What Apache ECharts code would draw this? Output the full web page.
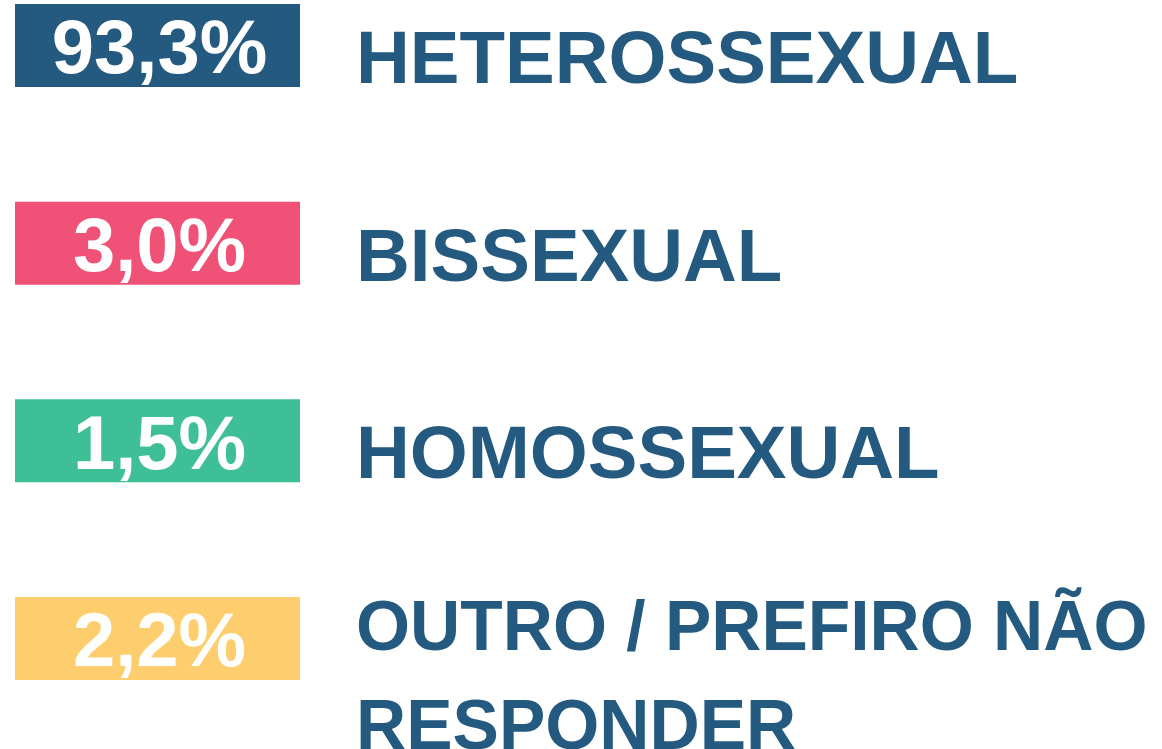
<!DOCTYPE html>
<html>
<head>
<meta charset="utf-8">
<script src="https://cdn.jsdelivr.net/npm/echarts@6/dist/echarts.min.js"></script>
<style>
  html, body { margin: 0; padding: 0; background: #ffffff; }
  #chart { width: 1162px; height: 749px; }
</style>
</head>
<body>
<div id="chart"></div>
<script>
// ---- data ----
const categories = ['HETEROSSEXUAL', 'BISSEXUAL', 'HOMOSSEXUAL', 'OUTRO / PREFIRO NÃO\nRESPONDER'];
const percentages = [93.3, 3.0, 1.5, 2.2];
const boxColors = ['#245A80', '#F05277', '#3EBF97', '#FECE6E'];

const fmt = v => v.toFixed(1).replace('.', ',') + '%';

const chart = echarts.init(document.getElementById('chart'), null, { renderer: 'canvas' });

const BOX_W = 285, BOX_H = 83;
const LABEL_COLOR = '#245A80';
const FONT = '"Liberation Sans", Arial, sans-serif';

chart.setOption({
  backgroundColor: '#ffffff',
  animation: false,
  grid: { left: 15, right: 20, top: 45.5, bottom: 110.5 },
  xAxis: { type: 'value', min: 0, max: 100, show: false },
  yAxis: { type: 'category', data: categories, inverse: true, boundaryGap: false, show: false },
  series: [{
    type: 'custom',
    data: percentages.map((v, i) => [v, i]),
    encode: { x: 0, y: 1 },
    renderItem: function (params, api) {
      const idx = api.value(1);
      const val = api.value(0);
      const p = api.coord([0, idx]);
      const x0 = p[0], cy = p[1];
      const label = categories[idx];
      const multi = label.indexOf('\n') >= 0;
      const labelSize = multi ? 69.5 : 74.5;
      const lineH = 99;
      const firstLineCenter = multi ? cy - 14.5 : cy + 10;
      return {
        type: 'group',
        children: [
          {
            type: 'rect',
            shape: { x: x0, y: cy - BOX_H / 2, width: BOX_W, height: BOX_H },
            style: { fill: boxColors[idx] }
          },
          {
            type: 'text',
            x: x0 + BOX_W / 2 + 2,
            y: cy + 7,
            style: {
              text: fmt(val),
              fill: '#ffffff',
              font: 'bold 76px ' + FONT,
              align: 'center',
              verticalAlign: 'middle'
            }
          },
          {
            type: 'text',
            x: 356,
            y: firstLineCenter - lineH / 2 + 7,
            style: {
              text: label,
              fill: LABEL_COLOR,
              font: 'bold ' + labelSize + 'px ' + FONT,
              lineHeight: lineH,
              align: 'left',
              verticalAlign: 'top'
            }
          }
        ]
      };
    }
  }]
});
</script>
</body>
</html>
